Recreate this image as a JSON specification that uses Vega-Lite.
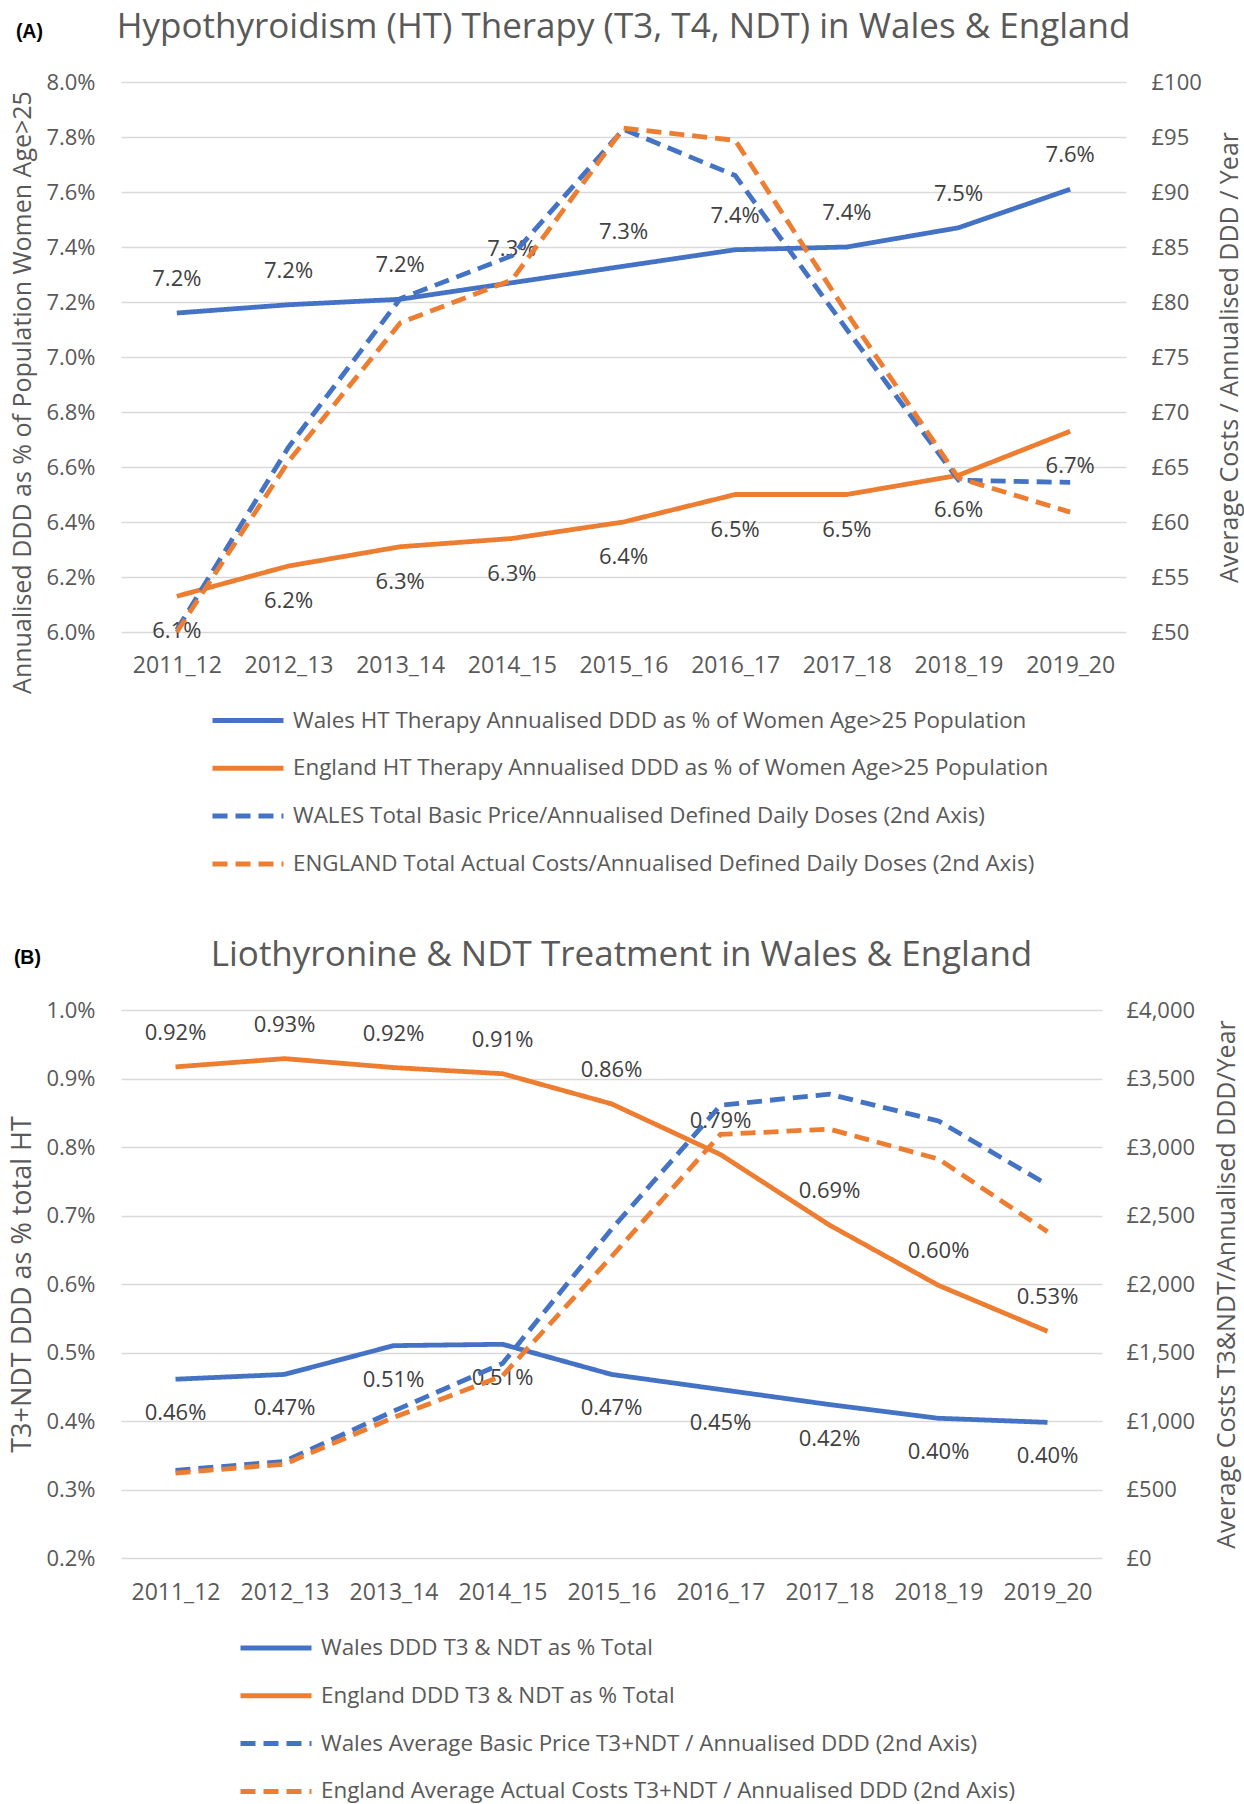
{
  "$schema": "https://vega.github.io/schema/vega-lite/v6.json",
  "background": "white",
  "padding": {"left": 8, "top": 10, "right": 5, "bottom": 0},
  "config": {
    "font": "Open Sans",
    "view": {"stroke": null},
    "axis": {"labelFont": "Open Sans", "labelFontSize": 22, "labelColor": "#595959", "titleFont": "Open Sans", "titleColor": "#595959", "titleFontSize": 25, "titleFontWeight": "normal", "domain": false, "ticks": false, "gridColor": "#D9D9D9", "gridWidth": 1.5},
    "axisX": {"labelFontSize": 23},
    "legend": {"orient": "none", "direction": "vertical", "symbolType": "stroke", "symbolSize": 5041, "symbolStrokeWidth": 5, "labelFont": "Open Sans", "labelFontSize": 22.4, "labelColor": "#595959", "labelOffset": 7, "labelLimit": 1200, "clipHeight": 26, "rowPadding": 21.8},
    "title": {"font": "Open Sans", "color": "#595959", "fontWeight": "normal", "fontSize": 35}
  },
  "datasets": {
    "topPct": [
      {"year": "2011_12", "series": "Wales HT Therapy Annualised DDD as % of Women Age>25 Population", "value": 0.0716},
      {"year": "2012_13", "series": "Wales HT Therapy Annualised DDD as % of Women Age>25 Population", "value": 0.0719},
      {"year": "2013_14", "series": "Wales HT Therapy Annualised DDD as % of Women Age>25 Population", "value": 0.0721},
      {"year": "2014_15", "series": "Wales HT Therapy Annualised DDD as % of Women Age>25 Population", "value": 0.0727},
      {"year": "2015_16", "series": "Wales HT Therapy Annualised DDD as % of Women Age>25 Population", "value": 0.0733},
      {"year": "2016_17", "series": "Wales HT Therapy Annualised DDD as % of Women Age>25 Population", "value": 0.0739},
      {"year": "2017_18", "series": "Wales HT Therapy Annualised DDD as % of Women Age>25 Population", "value": 0.0740},
      {"year": "2018_19", "series": "Wales HT Therapy Annualised DDD as % of Women Age>25 Population", "value": 0.0747},
      {"year": "2019_20", "series": "Wales HT Therapy Annualised DDD as % of Women Age>25 Population", "value": 0.0761},
      {"year": "2011_12", "series": "England HT Therapy Annualised DDD as % of Women Age>25 Population", "value": 0.0613},
      {"year": "2012_13", "series": "England HT Therapy Annualised DDD as % of Women Age>25 Population", "value": 0.0624},
      {"year": "2013_14", "series": "England HT Therapy Annualised DDD as % of Women Age>25 Population", "value": 0.0631},
      {"year": "2014_15", "series": "England HT Therapy Annualised DDD as % of Women Age>25 Population", "value": 0.0634},
      {"year": "2015_16", "series": "England HT Therapy Annualised DDD as % of Women Age>25 Population", "value": 0.0640},
      {"year": "2016_17", "series": "England HT Therapy Annualised DDD as % of Women Age>25 Population", "value": 0.0650},
      {"year": "2017_18", "series": "England HT Therapy Annualised DDD as % of Women Age>25 Population", "value": 0.0650},
      {"year": "2018_19", "series": "England HT Therapy Annualised DDD as % of Women Age>25 Population", "value": 0.0657},
      {"year": "2019_20", "series": "England HT Therapy Annualised DDD as % of Women Age>25 Population", "value": 0.0673}
    ],
    "topCost": [
      {"year": "2011_12", "series": "WALES Total Basic Price/Annualised Defined Daily Doses (2nd Axis)", "value": 50.2},
      {"year": "2012_13", "series": "WALES Total Basic Price/Annualised Defined Daily Doses (2nd Axis)", "value": 66.8},
      {"year": "2013_14", "series": "WALES Total Basic Price/Annualised Defined Daily Doses (2nd Axis)", "value": 80.3},
      {"year": "2014_15", "series": "WALES Total Basic Price/Annualised Defined Daily Doses (2nd Axis)", "value": 84.2},
      {"year": "2015_16", "series": "WALES Total Basic Price/Annualised Defined Daily Doses (2nd Axis)", "value": 95.7},
      {"year": "2016_17", "series": "WALES Total Basic Price/Annualised Defined Daily Doses (2nd Axis)", "value": 91.5},
      {"year": "2017_18", "series": "WALES Total Basic Price/Annualised Defined Daily Doses (2nd Axis)", "value": 77.5},
      {"year": "2018_19", "series": "WALES Total Basic Price/Annualised Defined Daily Doses (2nd Axis)", "value": 63.8},
      {"year": "2019_20", "series": "WALES Total Basic Price/Annualised Defined Daily Doses (2nd Axis)", "value": 63.6},
      {"year": "2011_12", "series": "ENGLAND Total Actual Costs/Annualised Defined Daily Doses (2nd Axis)", "value": 50.0},
      {"year": "2012_13", "series": "ENGLAND Total Actual Costs/Annualised Defined Daily Doses (2nd Axis)", "value": 65.5},
      {"year": "2013_14", "series": "ENGLAND Total Actual Costs/Annualised Defined Daily Doses (2nd Axis)", "value": 78.1},
      {"year": "2014_15", "series": "ENGLAND Total Actual Costs/Annualised Defined Daily Doses (2nd Axis)", "value": 82.0},
      {"year": "2015_16", "series": "ENGLAND Total Actual Costs/Annualised Defined Daily Doses (2nd Axis)", "value": 95.8},
      {"year": "2016_17", "series": "ENGLAND Total Actual Costs/Annualised Defined Daily Doses (2nd Axis)", "value": 94.7},
      {"year": "2017_18", "series": "ENGLAND Total Actual Costs/Annualised Defined Daily Doses (2nd Axis)", "value": 79.0},
      {"year": "2018_19", "series": "ENGLAND Total Actual Costs/Annualised Defined Daily Doses (2nd Axis)", "value": 64.0},
      {"year": "2019_20", "series": "ENGLAND Total Actual Costs/Annualised Defined Daily Doses (2nd Axis)", "value": 60.9}
    ],
    "botPct": [
      {"year": "2011_12", "series": "Wales DDD T3 & NDT as % Total", "value": 0.00461},
      {"year": "2012_13", "series": "Wales DDD T3 & NDT as % Total", "value": 0.00468},
      {"year": "2013_14", "series": "Wales DDD T3 & NDT as % Total", "value": 0.00510},
      {"year": "2014_15", "series": "Wales DDD T3 & NDT as % Total", "value": 0.00512},
      {"year": "2015_16", "series": "Wales DDD T3 & NDT as % Total", "value": 0.00468},
      {"year": "2016_17", "series": "Wales DDD T3 & NDT as % Total", "value": 0.00446},
      {"year": "2017_18", "series": "Wales DDD T3 & NDT as % Total", "value": 0.00424},
      {"year": "2018_19", "series": "Wales DDD T3 & NDT as % Total", "value": 0.00404},
      {"year": "2019_20", "series": "Wales DDD T3 & NDT as % Total", "value": 0.00398},
      {"year": "2011_12", "series": "England DDD T3 & NDT as % Total", "value": 0.00917},
      {"year": "2012_13", "series": "England DDD T3 & NDT as % Total", "value": 0.00929},
      {"year": "2013_14", "series": "England DDD T3 & NDT as % Total", "value": 0.00916},
      {"year": "2014_15", "series": "England DDD T3 & NDT as % Total", "value": 0.00907},
      {"year": "2015_16", "series": "England DDD T3 & NDT as % Total", "value": 0.00863},
      {"year": "2016_17", "series": "England DDD T3 & NDT as % Total", "value": 0.00789},
      {"year": "2017_18", "series": "England DDD T3 & NDT as % Total", "value": 0.00686},
      {"year": "2018_19", "series": "England DDD T3 & NDT as % Total", "value": 0.00598},
      {"year": "2019_20", "series": "England DDD T3 & NDT as % Total", "value": 0.00531}
    ],
    "botCost": [
      {"year": "2011_12", "series": "Wales Average Basic Price T3+NDT / Annualised DDD (2nd Axis)", "value": 640},
      {"year": "2012_13", "series": "Wales Average Basic Price T3+NDT / Annualised DDD (2nd Axis)", "value": 705},
      {"year": "2013_14", "series": "Wales Average Basic Price T3+NDT / Annualised DDD (2nd Axis)", "value": 1072},
      {"year": "2014_15", "series": "Wales Average Basic Price T3+NDT / Annualised DDD (2nd Axis)", "value": 1420},
      {"year": "2015_16", "series": "Wales Average Basic Price T3+NDT / Annualised DDD (2nd Axis)", "value": 2400},
      {"year": "2016_17", "series": "Wales Average Basic Price T3+NDT / Annualised DDD (2nd Axis)", "value": 3304},
      {"year": "2017_18", "series": "Wales Average Basic Price T3+NDT / Annualised DDD (2nd Axis)", "value": 3386},
      {"year": "2018_19", "series": "Wales Average Basic Price T3+NDT / Annualised DDD (2nd Axis)", "value": 3190},
      {"year": "2019_20", "series": "Wales Average Basic Price T3+NDT / Annualised DDD (2nd Axis)", "value": 2725},
      {"year": "2011_12", "series": "England Average Actual Costs T3+NDT / Annualised DDD (2nd Axis)", "value": 620},
      {"year": "2012_13", "series": "England Average Actual Costs T3+NDT / Annualised DDD (2nd Axis)", "value": 685},
      {"year": "2013_14", "series": "England Average Actual Costs T3+NDT / Annualised DDD (2nd Axis)", "value": 1025},
      {"year": "2014_15", "series": "England Average Actual Costs T3+NDT / Annualised DDD (2nd Axis)", "value": 1330},
      {"year": "2015_16", "series": "England Average Actual Costs T3+NDT / Annualised DDD (2nd Axis)", "value": 2200},
      {"year": "2016_17", "series": "England Average Actual Costs T3+NDT / Annualised DDD (2nd Axis)", "value": 3092},
      {"year": "2017_18", "series": "England Average Actual Costs T3+NDT / Annualised DDD (2nd Axis)", "value": 3131},
      {"year": "2018_19", "series": "England Average Actual Costs T3+NDT / Annualised DDD (2nd Axis)", "value": 2912},
      {"year": "2019_20", "series": "England Average Actual Costs T3+NDT / Annualised DDD (2nd Axis)", "value": 2382}
    ]
  },
  "resolve": {"scale": {"color": "independent", "strokeDash": "independent"}, "legend": {"color": "independent", "strokeDash": "independent"}},
  "spacing": 60,
  "vconcat": [
    {
      "title": {"text": "(A)", "anchor": "start", "frame": "bounds", "fontSize": 19.5, "fontWeight": "bold", "color": "#000000", "font": "Liberation Sans", "offset": -32, "dx": 5},
      "vconcat": [
        {
          "title": {"text": "Hypothyroidism (HT) Therapy (T3, T4, NDT) in Wales & England", "anchor": "middle", "frame": "group", "offset": 26},
          "width": 1005,
          "height": 550,
          "resolve": {"scale": {"y": "independent"}},
          "layer": [
            {
              "data": {"name": "topPct"},
              "layer": [
                {
                  "mark": {"type": "line", "strokeWidth": 4.8},
                  "encoding": {
                    "x": {"field": "year", "type": "ordinal", "scale": {"type": "point", "padding": 0.5}, "axis": {"title": null, "labelAngle": 0, "labelPadding": 22}},
                    "y": {"field": "value", "type": "quantitative", "scale": {"domain": [0.06, 0.08]}, "axis": {"title": "Annualised DDD as % of Population Women Age>25", "titleY": 310, "values": [0.06, 0.062, 0.064, 0.066, 0.068, 0.07, 0.072, 0.074, 0.076, 0.078, 0.08], "format": ".1%", "grid": true, "labelPadding": 26, "titlePadding": 10}},
                    "color": {"field": "series", "type": "nominal", "scale": {"domain": ["Wales HT Therapy Annualised DDD as % of Women Age>25 Population", "England HT Therapy Annualised DDD as % of Women Age>25 Population", "WALES Total Basic Price/Annualised Defined Daily Doses (2nd Axis)", "ENGLAND Total Actual Costs/Annualised Defined Daily Doses (2nd Axis)"], "range": ["#4472C4", "#ED7D31", "#4472C4", "#ED7D31"]}, "legend": {"title": null, "legendX": 89, "legendY": 625.5}},
                    "strokeDash": {"field": "series", "type": "nominal", "scale": {"domain": ["Wales HT Therapy Annualised DDD as % of Women Age>25 Population", "England HT Therapy Annualised DDD as % of Women Age>25 Population", "WALES Total Basic Price/Annualised Defined Daily Doses (2nd Axis)", "ENGLAND Total Actual Costs/Annualised Defined Daily Doses (2nd Axis)"], "range": [[1, 0], [1, 0], [15, 8], [15, 8]]}, "legend": {"title": null, "legendX": 89, "legendY": 625.5}}
                  }
                },
                {
                  "transform": [{"filter": {"field": "series", "equal": "Wales HT Therapy Annualised DDD as % of Women Age>25 Population"}}],
                  "mark": {"type": "text", "dy": -34, "fontSize": 22, "color": "#404040", "font": "Open Sans"},
                  "encoding": {
                    "x": {"field": "year", "type": "ordinal"},
                    "y": {"field": "value", "type": "quantitative"},
                    "text": {"field": "value", "type": "quantitative", "format": ".1%"}
                  }
                },
                {
                  "transform": [{"filter": {"field": "series", "equal": "England HT Therapy Annualised DDD as % of Women Age>25 Population"}}],
                  "mark": {"type": "text", "dy": 35, "fontSize": 22, "color": "#404040", "font": "Open Sans"},
                  "encoding": {
                    "x": {"field": "year", "type": "ordinal"},
                    "y": {"field": "value", "type": "quantitative"},
                    "text": {"field": "value", "type": "quantitative", "format": ".1%"}
                  }
                }
              ]
            },
            {
              "data": {"name": "topCost"},
              "mark": {"type": "line", "strokeWidth": 4.8},
              "encoding": {
                "x": {"field": "year", "type": "ordinal"},
                "y": {"field": "value", "type": "quantitative", "scale": {"domain": [50, 100]}, "axis": {"orient": "right", "title": "Average Costs / Annualised DDD / Year", "titleAngle": -90, "titleX": 103, "titleBaseline": "middle", "values": [50, 55, 60, 65, 70, 75, 80, 85, 90, 95, 100], "labelExpr": "'£' + datum.value", "grid": false, "labelPadding": 25}},
                "color": {"field": "series", "type": "nominal", "legend": {"title": null, "legendX": 89, "legendY": 625.5}},
                "strokeDash": {"field": "series", "type": "nominal", "legend": {"title": null, "legendX": 89, "legendY": 625.5}}
              }
            }
          ]
        }
      ]
    },
    {
      "title": {"text": "(B)", "anchor": "start", "frame": "bounds", "fontSize": 19.5, "fontWeight": "bold", "color": "#000000", "font": "Liberation Sans", "offset": -30, "dx": 5},
      "vconcat": [
        {
          "title": {"text": "Liothyronine & NDT Treatment in Wales & England", "anchor": "middle", "frame": "group", "offset": 26, "dx": 10},
          "width": 981,
          "height": 548,
          "resolve": {"scale": {"y": "independent"}},
          "layer": [
            {
              "data": {"name": "botPct"},
              "layer": [
                {
                  "mark": {"type": "line", "strokeWidth": 4.8},
                  "encoding": {
                    "x": {"field": "year", "type": "ordinal", "scale": {"type": "point", "padding": 0.5}, "axis": {"title": null, "labelAngle": 0, "labelPadding": 23}},
                    "y": {"field": "value", "type": "quantitative", "scale": {"domain": [0.002, 0.01]}, "axis": {"title": "T3+NDT DDD as % total HT", "titleFontSize": 27, "values": [0.002, 0.003, 0.004, 0.005, 0.006, 0.007, 0.008, 0.009, 0.01], "format": ".1%", "grid": true, "labelPadding": 26, "titlePadding": 9}},
                    "color": {"field": "series", "type": "nominal", "scale": {"domain": ["Wales DDD T3 & NDT as % Total", "England DDD T3 & NDT as % Total", "Wales Average Basic Price T3+NDT / Annualised DDD (2nd Axis)", "England Average Actual Costs T3+NDT / Annualised DDD (2nd Axis)"], "range": ["#4472C4", "#ED7D31", "#4472C4", "#ED7D31"]}, "legend": {"title": null, "legendX": 117, "legendY": 625}},
                    "strokeDash": {"field": "series", "type": "nominal", "scale": {"domain": ["Wales DDD T3 & NDT as % Total", "England DDD T3 & NDT as % Total", "Wales Average Basic Price T3+NDT / Annualised DDD (2nd Axis)", "England Average Actual Costs T3+NDT / Annualised DDD (2nd Axis)"], "range": [[1, 0], [1, 0], [15, 8], [15, 8]]}, "legend": {"title": null, "legendX": 117, "legendY": 625}}
                  }
                },
                {
                  "transform": [{"filter": {"field": "series", "equal": "England DDD T3 & NDT as % Total"}}],
                  "mark": {"type": "text", "dy": -34, "fontSize": 22, "color": "#404040", "font": "Open Sans"},
                  "encoding": {
                    "x": {"field": "year", "type": "ordinal"},
                    "y": {"field": "value", "type": "quantitative"},
                    "text": {"field": "value", "type": "quantitative", "format": ".2%"}
                  }
                },
                {
                  "transform": [{"filter": {"field": "series", "equal": "Wales DDD T3 & NDT as % Total"}}],
                  "mark": {"type": "text", "dy": 34, "fontSize": 22, "color": "#404040", "font": "Open Sans"},
                  "encoding": {
                    "x": {"field": "year", "type": "ordinal"},
                    "y": {"field": "value", "type": "quantitative"},
                    "text": {"field": "value", "type": "quantitative", "format": ".2%"}
                  }
                }
              ]
            },
            {
              "data": {"name": "botCost"},
              "mark": {"type": "line", "strokeWidth": 4.8},
              "encoding": {
                "x": {"field": "year", "type": "ordinal"},
                "y": {"field": "value", "type": "quantitative", "scale": {"domain": [0, 4000]}, "axis": {"orient": "right", "title": "Average Costs  T3&NDT/Annualised DDD/Year", "titleAngle": -90, "titleX": 124, "titleBaseline": "middle", "values": [0, 500, 1000, 1500, 2000, 2500, 3000, 3500, 4000], "labelExpr": "'£' + format(datum.value, ',')", "grid": false, "labelPadding": 24}},
                "color": {"field": "series", "type": "nominal", "legend": {"title": null, "legendX": 117, "legendY": 625}},
                "strokeDash": {"field": "series", "type": "nominal", "legend": {"title": null, "legendX": 117, "legendY": 625}}
              }
            }
          ]
        }
      ]
    }
  ]
}
